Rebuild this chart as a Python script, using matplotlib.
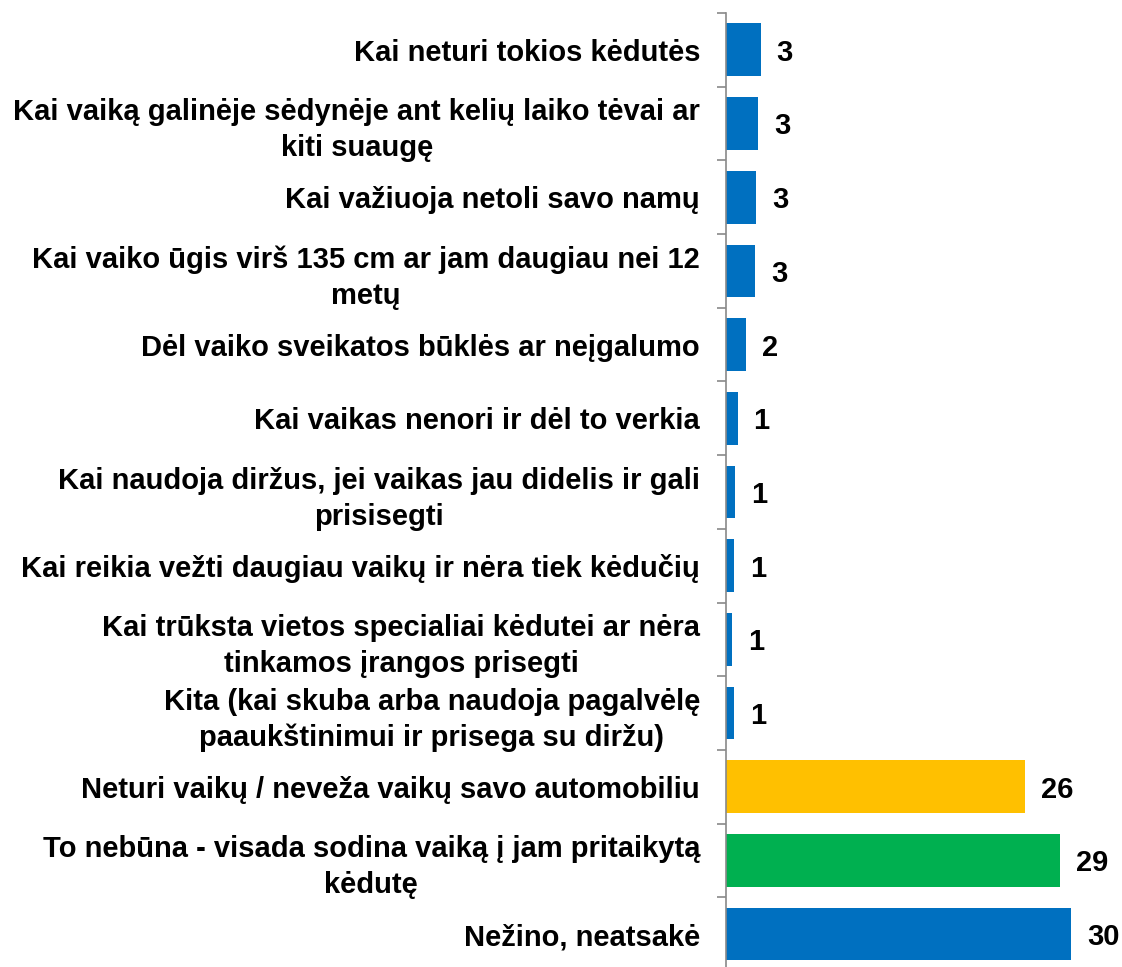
import numpy as np
import matplotlib
matplotlib.use("Agg")
import matplotlib.pyplot as plt

# categories top to bottom, as in the survey chart
categories = [
    "Kai neturi tokios kėdutės",
    "Kai vaiką galinėje sėdynėje ant kelių laiko tėvai ar\nkiti suaugę",
    "Kai važiuoja netoli savo namų",
    "Kai vaiko ūgis virš 135 cm ar jam daugiau nei 12\nmetų",
    "Dėl vaiko sveikatos būklės ar neįgalumo",
    "Kai vaikas nenori ir dėl to verkia",
    "Kai naudoja diržus, jei vaikas jau didelis ir gali\nprisisegti",
    "Kai reikia vežti daugiau vaikų ir nėra tiek kėdučių",
    "Kai trūksta vietos specialiai kėdutei ar nėra\ntinkamos įrangos prisegti",
    "Kita (kai skuba arba naudoja pagalvėlę\npaaukštinimui ir prisega su diržu)",
    "Neturi vaikų / neveža vaikų savo automobiliu",
    "To nebūna - visada sodina vaiką į jam pritaikytą\nkėdutę",
    "Nežino, neatsakė",
]
values = [3.0, 2.8, 2.6, 2.5, 1.7, 1.0, 0.8, 0.7, 0.5, 0.7, 26, 29, 30]
value_labels = ["3", "3", "3", "3", "2", "1", "1", "1", "1", "1", "26", "29", "30"]
colors = ["#0070C0"] * 10 + ["#FFC000", "#00B050", "#0070C0"]

plt.rcParams["font.family"] = ["Liberation Sans", "DejaVu Sans"]

fig = plt.figure(figsize=(11.22, 9.67), dpi=100)
ax = fig.add_axes([0.6471, -0.0041, 0.328, 0.9907])

y = np.arange(len(categories))
ax.barh(y, values, height=0.715, color=colors)
ax.set_ylim(len(categories) - 0.5, -0.5)
ax.set_xlim(0, 32)

for yi, v, lab in zip(y, values, value_labels):
    ax.annotate(lab, (v, yi), xytext=(11.5, 0), textcoords="offset points",
                ha="left", va="center_baseline", fontsize=21, fontweight="bold")

ax.set_yticks(y)
ax.set_yticklabels(categories, fontsize=21, fontweight="bold")
for t in ax.get_yticklabels():
    t.set_multialignment("center")
    t.set_linespacing(1.36)
ax.tick_params(axis="y", which="major", length=0, pad=18.7)
ax.set_yticks(np.arange(len(categories) + 1) - 0.5, minor=True)
ax.tick_params(axis="y", which="minor", length=6.5, width=1.2, color="#898989")

ax.xaxis.set_visible(False)
for s in ["top", "right", "bottom"]:
    ax.spines[s].set_visible(False)
ax.spines["left"].set_color("#898989")
ax.spines["left"].set_linewidth(1.2)

fig.savefig("out.png", dpi=100)
